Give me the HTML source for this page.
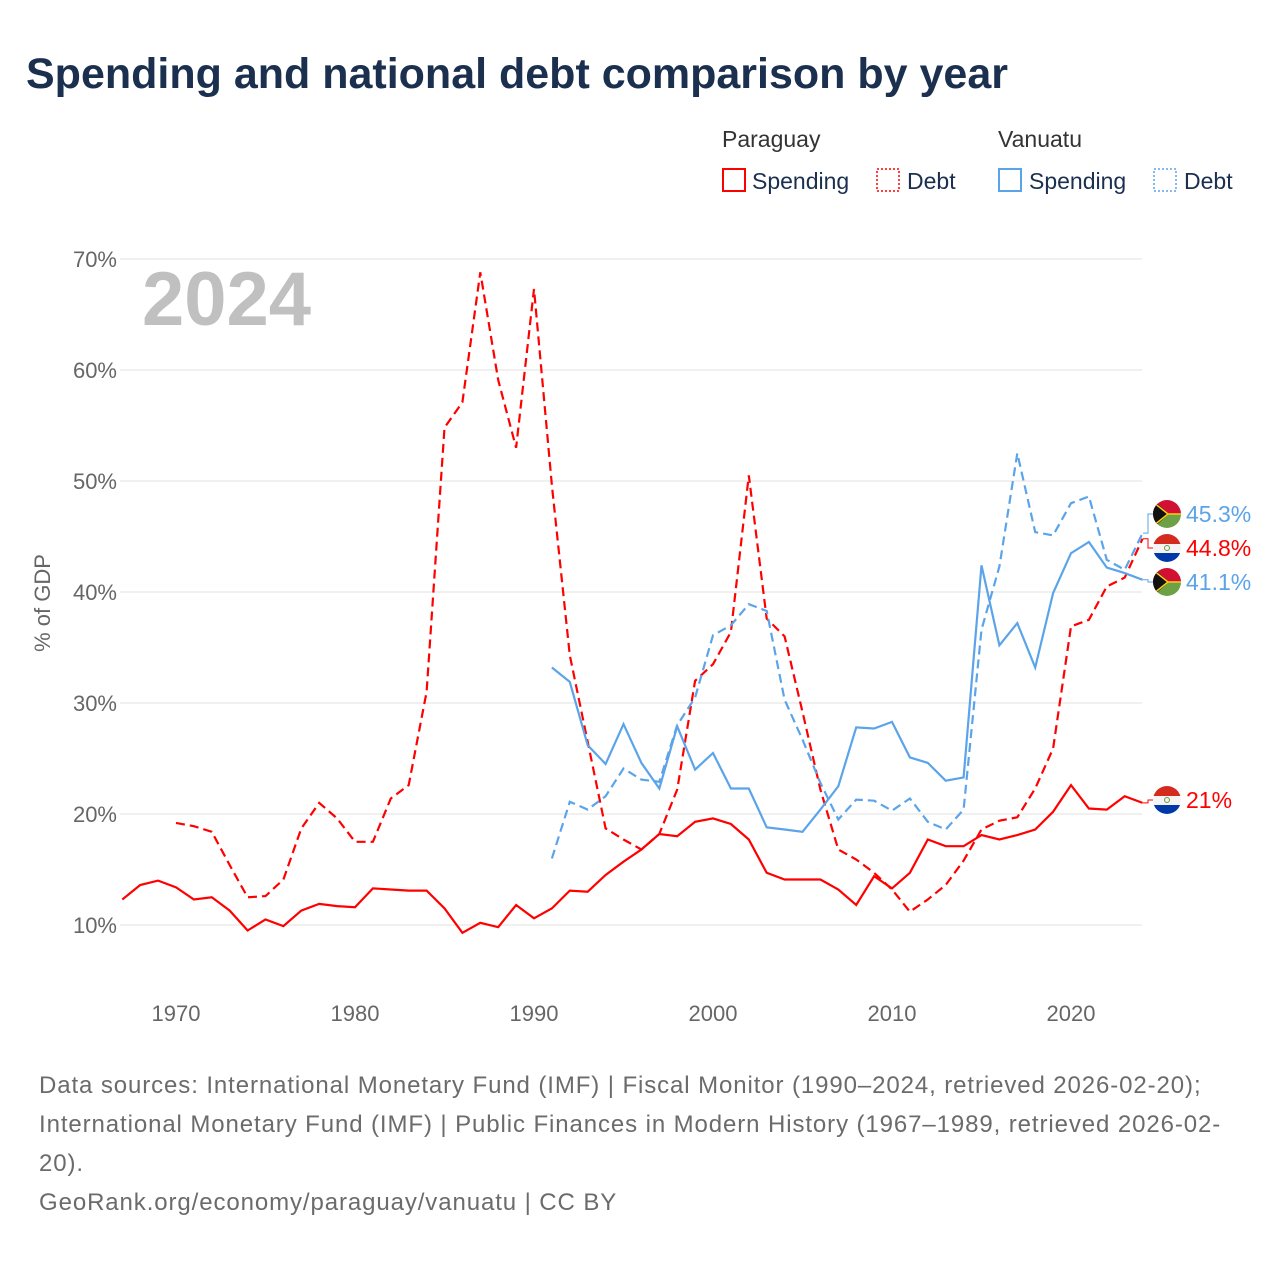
<!DOCTYPE html>
<html><head><meta charset="utf-8">
<style>
body{margin:0;background:#fff;font-family:"Liberation Sans",sans-serif;}
#wrap{position:relative;width:1280px;height:1280px;overflow:hidden;}
h1{position:absolute;left:26px;top:50px;margin:0;font-size:43px;font-weight:bold;color:#1b2f4f;letter-spacing:0px;}
.foot{position:absolute;left:39px;top:1066px;width:1230px;font-size:24px;line-height:39px;color:#6b6b6b;letter-spacing:0.9px;white-space:nowrap;}
</style></head><body>
<div id="wrap">
<h1>Spending and national debt comparison by year</h1>
<svg id="chart" width="1280" height="1280" style="position:absolute;left:0;top:0"></svg>
<div class="foot">Data sources: International Monetary Fund (IMF) | Fiscal Monitor (1990–2024, retrieved 2026-02-20);<br>International Monetary Fund (IMF) | Public Finances in Modern History (1967–1989, retrieved 2026-02-<br>20).<br>GeoRank.org/economy/paraguay/vanuatu | CC BY</div>
</div>
<script>
const yTicks=[10,20,30,40,50,60,70];
const xTicks=[1970,1980,1990,2000,2010,2020];
const pySpendStart=1967;
const pySpend=[12.3,13.6,14.0,13.4,12.3,12.5,11.3,9.5,10.5,9.9,11.3,11.9,11.7,11.6,13.3,13.2,13.1,13.1,11.5,9.3,10.2,9.8,11.8,10.6,11.5,13.1,13.0,14.5,15.7,16.8,18.2,18.0,19.3,19.6,19.1,17.7,14.7,14.1,14.1,14.1,13.2,11.8,14.4,13.3,14.7,17.7,17.1,17.1,18.1,17.7,18.1,18.6,20.2,22.6,20.5,20.4,21.6,21.0];
const pyDebtStart=1970;
const pyDebt=[19.2,18.9,18.4,15.4,12.5,12.6,14.1,18.7,21.0,19.6,17.5,17.5,21.4,22.6,31.0,54.8,57.1,68.8,59.1,53.0,67.3,49.6,34.3,26.5,18.7,17.7,16.8,18.2,22.2,32.0,33.5,36.4,50.5,37.6,36.0,29.2,22.2,16.8,15.9,14.7,13.2,11.2,12.3,13.6,15.8,18.6,19.4,19.7,22.3,25.9,36.9,37.5,40.5,41.3,44.8];
const vuStart=1991;
const vuSpend=[33.2,31.9,26.2,24.5,28.1,24.6,22.3,27.9,24.0,25.5,22.3,22.3,18.8,18.6,18.4,20.4,22.5,27.8,27.7,28.3,25.1,24.6,23.0,23.3,42.4,35.2,37.2,33.2,39.9,43.5,44.5,42.2,41.7,41.1];
const vuDebt=[16.0,21.1,20.4,21.6,24.1,23.1,22.9,28.0,30.5,36.1,37.0,38.9,38.3,30.3,26.7,22.8,19.5,21.3,21.2,20.3,21.4,19.3,18.6,20.4,36.6,42.3,52.5,45.4,45.1,48.0,48.6,42.9,42.0,45.3];

const RED="#ff0000",BLUE="#5ba4ea";
const svg=document.getElementById('chart');
const NS="http://www.w3.org/2000/svg";
const X=yr=>176+(yr-1970)*17.9;
const Y=v=>925-(v-10)*11.1;
function mk(tag,attrs,parent){const e=document.createElementNS(NS,tag);for(const k in attrs)e.setAttribute(k,attrs[k]);(parent||svg).appendChild(e);return e;}

yTicks.forEach(t=>{
  const g=mk('line',{x1:120,x2:1142,y1:Y(t),y2:Y(t),stroke:'#e6e6e6','stroke-width':1.3});
  
  
  const tx=mk('text',{x:117,y:Y(t)+8,'text-anchor':'end','font-size':22,fill:'#666'});
  tx.textContent=t+'%';
  
  
});
xTicks.forEach(t=>{
  const tx=mk('text',{x:X(t),y:1021,'text-anchor':'middle','font-size':22,fill:'#666'});
  tx.textContent=t;
  
  
});
const yt=mk('text',{x:50,y:603,'text-anchor':'middle','font-size':22,fill:'#666',transform:'rotate(-90 50 603)'});
yt.textContent='% of GDP';



const big=mk('text',{x:142,y:325,'font-size':76,'font-weight':'bold',fill:'#c0c0c0'});
big.textContent='2024';



function series(arr,start,color,dash,name){
  const pts=arr.map((v,i)=>X(start+i).toFixed(1)+','+Y(v).toFixed(1)).join(' ');
  const p=mk('polyline',{points:pts,fill:'none',stroke:color,'stroke-width':2.2,'stroke-linejoin':'miter'});
  if(dash)p.setAttribute('stroke-dasharray','9,5');
  
  
}
series(pySpend,pySpendStart,RED,false,'paraguay-spending-line');
series(pyDebt,pyDebtStart,RED,true,'paraguay-debt-line');
series(vuSpend,vuStart,BLUE,false,'vanuatu-spending-line');
series(vuDebt,vuStart,BLUE,true,'vanuatu-debt-line');

function flag(cx,cy,type,name){
  const g=mk('g',{});
  
  
  const id='c'+Math.round(cy);
  const cp=mk('clipPath',{id:id},g);mk('circle',{cx:cx,cy:cy,r:14},cp);
  const gg=mk('g',{'clip-path':'url(#'+id+')'},g);
  if(type==='py'){
    mk('rect',{x:cx-14,y:cy-14,width:28,height:10,fill:'#d52b1e'},gg);
    mk('rect',{x:cx-14,y:cy-4,width:28,height:9,fill:'#f4f4f4'},gg);
    mk('rect',{x:cx-14,y:cy+5,width:28,height:10,fill:'#0038a8'},gg);
    mk('circle',{cx:cx,cy:cy,r:2.5,fill:'none',stroke:'#6a9a3a','stroke-width':1},gg);
  }else{
    mk('rect',{x:cx-14,y:cy-14,width:28,height:14,fill:'#d21034'},gg);
    mk('rect',{x:cx-14,y:cy,width:28,height:14,fill:'#6ea045'},gg);
    mk('polygon',{points:(cx-14)+','+(cy-14)+' '+(cx+2)+','+cy+' '+(cx-14)+','+(cy+14),fill:'#111'},gg);
    mk('polyline',{points:(cx-14)+','+(cy-12)+' '+(cx+1)+','+cy+' '+(cx-14)+','+(cy+12),fill:'none',stroke:'#fdce12','stroke-width':1.5},gg);
    mk('line',{x1:cx,y1:cy,x2:cx+14,y2:cy,stroke:'#fdce12','stroke-width':1.5},gg);
  }
}
const ends=[
 {v:vuDebt[vuDebt.length-1],ly:514,c:BLUE,f:'vu',n:'vanuatu-debt'},
 {v:pyDebt[pyDebt.length-1],ly:548,c:RED,f:'py',n:'paraguay-debt'},
 {v:vuSpend[vuSpend.length-1],ly:582,c:BLUE,f:'vu',n:'vanuatu-spending'},
 {v:pySpend[pySpend.length-1],ly:800,c:RED,f:'py',n:'paraguay-spending'}];
ends.forEach(e=>{
  const y0=Y(e.v);
  const l=mk('polyline',{points:`1143,${y0} 1148,${y0} 1148,${e.ly} 1153,${e.ly}`,fill:'none',stroke:e.c,'stroke-width':1});
  
  
  flag(1167,e.ly,e.f,e.n+'-flag');
  const t=mk('text',{x:1186,y:e.ly+8,'font-size':23,fill:e.c});
  t.textContent=(Math.round(e.v*10)/10)+'%';
  
  
});

function legText(x,y,s,name,col){const t=mk('text',{x:x,y:y,'font-size':23,fill:col||'#1b2f4f'});t.textContent=s;}
legText(722,147,'Paraguay','legend-title-paraguay','#333');
legText(998,147,'Vanuatu','legend-title-vanuatu','#333');
function legBox(x,c,dash,name){const r=mk('rect',{x:x,y:169,width:22,height:22,fill:'none',stroke:c,'stroke-width':dash?1.5:2});if(dash)r.setAttribute('stroke-dasharray','2,2');}
legBox(723,RED,false,'legend-swatch-paraguay-spending');legText(752,189,'Spending','legend-label-paraguay-spending');
legBox(877,RED,true,'legend-swatch-paraguay-debt');legText(907,189,'Debt','legend-label-paraguay-debt');
legBox(999,BLUE,false,'legend-swatch-vanuatu-spending');legText(1029,189,'Spending','legend-label-vanuatu-spending');
legBox(1154,BLUE,true,'legend-swatch-vanuatu-debt');legText(1184,189,'Debt','legend-label-vanuatu-debt');
</script>
</body></html>
